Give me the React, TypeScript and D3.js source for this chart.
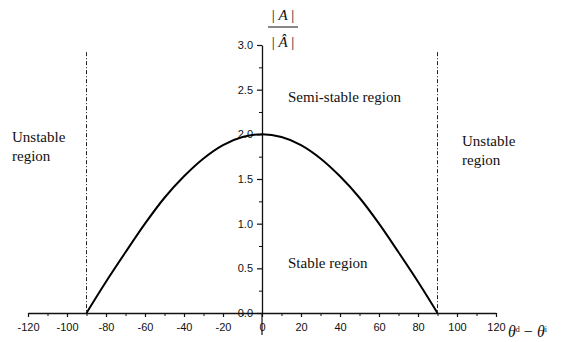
import React, { useEffect, useRef } from 'react';
import * as d3 from 'd3';

// phase difference (deg) and amplitude ratio
const thetaDiff = [-90, -80, -70, -60, -50, -40, -30, -20, -10, 0, 10, 20, 30, 40, 50, 60, 70, 80, 90];
const ampRatio = [0, 0.35, 0.68, 1.0, 1.29, 1.53, 1.73, 1.88, 1.97, 2.0, 1.97, 1.88, 1.73, 1.53, 1.29, 1.0, 0.68, 0.35, 0];

const xTicks = [-120, -100, -80, -60, -40, -20, 0, 20, 40, 60, 80, 100, 120];
const yTicks = [0, 0.5, 1.0, 1.5, 2.0, 2.5, 3.0];
const boundaries = [-90, 90];

const App = () => {
    const ref = useRef<SVGSVGElement>(null);

    useEffect(() => {
        const width = 562;
        const height = 342;
        const sans = '"Liberation Sans", Arial, sans-serif';
        const serif = '"Liberation Serif", "Times New Roman", serif';

        const x = d3.scaleLinear().domain([-120, 120]).range([28, 496]);
        const y = d3.scaleLinear().domain([0, 3]).range([313, 45]);

        const svg = d3.select(ref.current)
            .attr('width', width)
            .attr('height', height);
        svg.selectAll('*').remove();

        svg.append('rect').attr('width', width).attr('height', height).attr('fill', '#fff');

        // x axis, ticks pointing down
        const xAxis = svg.append('g')
            .attr('transform', `translate(0,${y(0)})`)
            .call(d3.axisBottom(x).tickValues(xTicks).tickSize(4).tickSizeOuter(0).tickPadding(6).tickFormat(d => String(d)));
        xAxis.select('.domain').attr('stroke', '#111').attr('stroke-width', 1.3);
        xAxis.selectAll('.tick line').attr('stroke', '#111').attr('stroke-width', 1.2);
        xAxis.selectAll('.tick text')
            .attr('font-family', sans).attr('font-size', 11).attr('fill', '#111');

        svg.append('g')
            .attr('transform', `translate(0,${y(0)})`)
            .call(d3.axisBottom(x).tickValues(d3.range(-110, 120, 20)).tickSize(3).tickFormat(() => ''))
            .call(g => g.select('.domain').remove())
            .selectAll('.tick line').attr('stroke', '#111');

        // y axis at theta = 0
        const yAxis = svg.append('g')
            .attr('transform', `translate(${x(0)},0)`)
            .call(d3.axisLeft(y).tickValues(yTicks).tickSize(5).tickSizeOuter(0).tickPadding(4).tickFormat(d3.format('.1f')));
        yAxis.select('.domain').attr('stroke', '#111').attr('stroke-width', 1.3);
        yAxis.selectAll('.tick line').attr('stroke', '#111').attr('stroke-width', 1.2);
        yAxis.selectAll('.tick text')
            .attr('font-family', sans).attr('font-size', 11).attr('fill', '#111');

        svg.append('g')
            .attr('transform', `translate(${x(0)},0)`)
            .call(d3.axisLeft(y).tickValues(d3.range(0.25, 3, 0.5)).tickSize(3).tickFormat(() => ''))
            .call(g => g.select('.domain').remove())
            .selectAll('.tick line').attr('stroke', '#111');

        // small stub of the y axis below the x axis
        svg.append('line')
            .attr('x1', x(0)).attr('x2', x(0))
            .attr('y1', y(0)).attr('y2', y(0) + 22)
            .attr('stroke', '#111').attr('stroke-width', 1.2);

        // dash-dot boundaries at +-90
        svg.selectAll('.bound')
            .data(boundaries)
            .join('line')
            .attr('class', 'bound')
            .attr('x1', d => x(d)).attr('x2', d => x(d))
            .attr('y1', y(2.92)).attr('y2', y(0))
            .attr('stroke', '#222')
            .attr('stroke-width', 1)
            .attr('stroke-dasharray', '4 2 1 2');

        const line = d3.line<number>()
            .x((d, i) => x(thetaDiff[i]))
            .y(d => y(d))
            .curve(d3.curveCardinal);

        svg.append('path')
            .datum(ampRatio)
            .attr('d', line)
            .attr('fill', 'none')
            .attr('stroke', '#000')
            .attr('stroke-width', 2);

        const label = (tx: number, ty: number, lines: string[]) => {
            const t = svg.append('text')
                .attr('x', tx).attr('y', ty)
                .attr('font-family', serif).attr('font-size', 15).attr('fill', '#111');
            lines.forEach((s, i) => {
                t.append('tspan').attr('x', tx).attr('dy', i === 0 ? 0 : 19).text(s);
            });
        };
        label(12, 142, ['Unstable', 'region']);
        label(462, 146, ['Unstable', 'region']);
        label(288, 102, ['Semi-stable region']);
        label(288, 268, ['Stable region']);

        // y title as a fraction |A| / |Â|
        const fx = 283;
        const top = svg.append('text').attr('x', fx).attr('y', 20).attr('text-anchor', 'middle')
            .attr('font-family', serif).attr('font-size', 15).attr('fill', '#111');
        top.append('tspan').text('| ');
        top.append('tspan').attr('font-style', 'italic').text('A');
        top.append('tspan').text(' |');
        svg.append('line')
            .attr('x1', fx - 15).attr('x2', fx + 15)
            .attr('y1', 27).attr('y2', 27)
            .attr('stroke', '#111').attr('stroke-width', 1);
        const bot = svg.append('text').attr('x', fx).attr('y', 47).attr('text-anchor', 'middle')
            .attr('font-family', serif).attr('font-size', 15).attr('fill', '#111');
        bot.append('tspan').text('| ');
        bot.append('tspan').attr('font-style', 'italic').text('Â');
        bot.append('tspan').text(' |');

        // x title
        const xt = svg.append('text').attr('x', 508).attr('y', 337)
            .attr('font-family', serif).attr('font-size', 16).attr('fill', '#111');
        xt.append('tspan').attr('font-style', 'italic').text('θ');
        xt.append('tspan').attr('font-size', 8).attr('dy', -5).text('d');
        xt.append('tspan').attr('dy', 5).text(' − ');
        xt.append('tspan').attr('font-style', 'italic').text('θ');
        xt.append('tspan').attr('font-size', 8).attr('dy', -5).text('i');
    }, []);

    return (
        <svg ref={ref} style={{ position: 'absolute', left: 0, top: 0 }} />
    );
};

export default App;
